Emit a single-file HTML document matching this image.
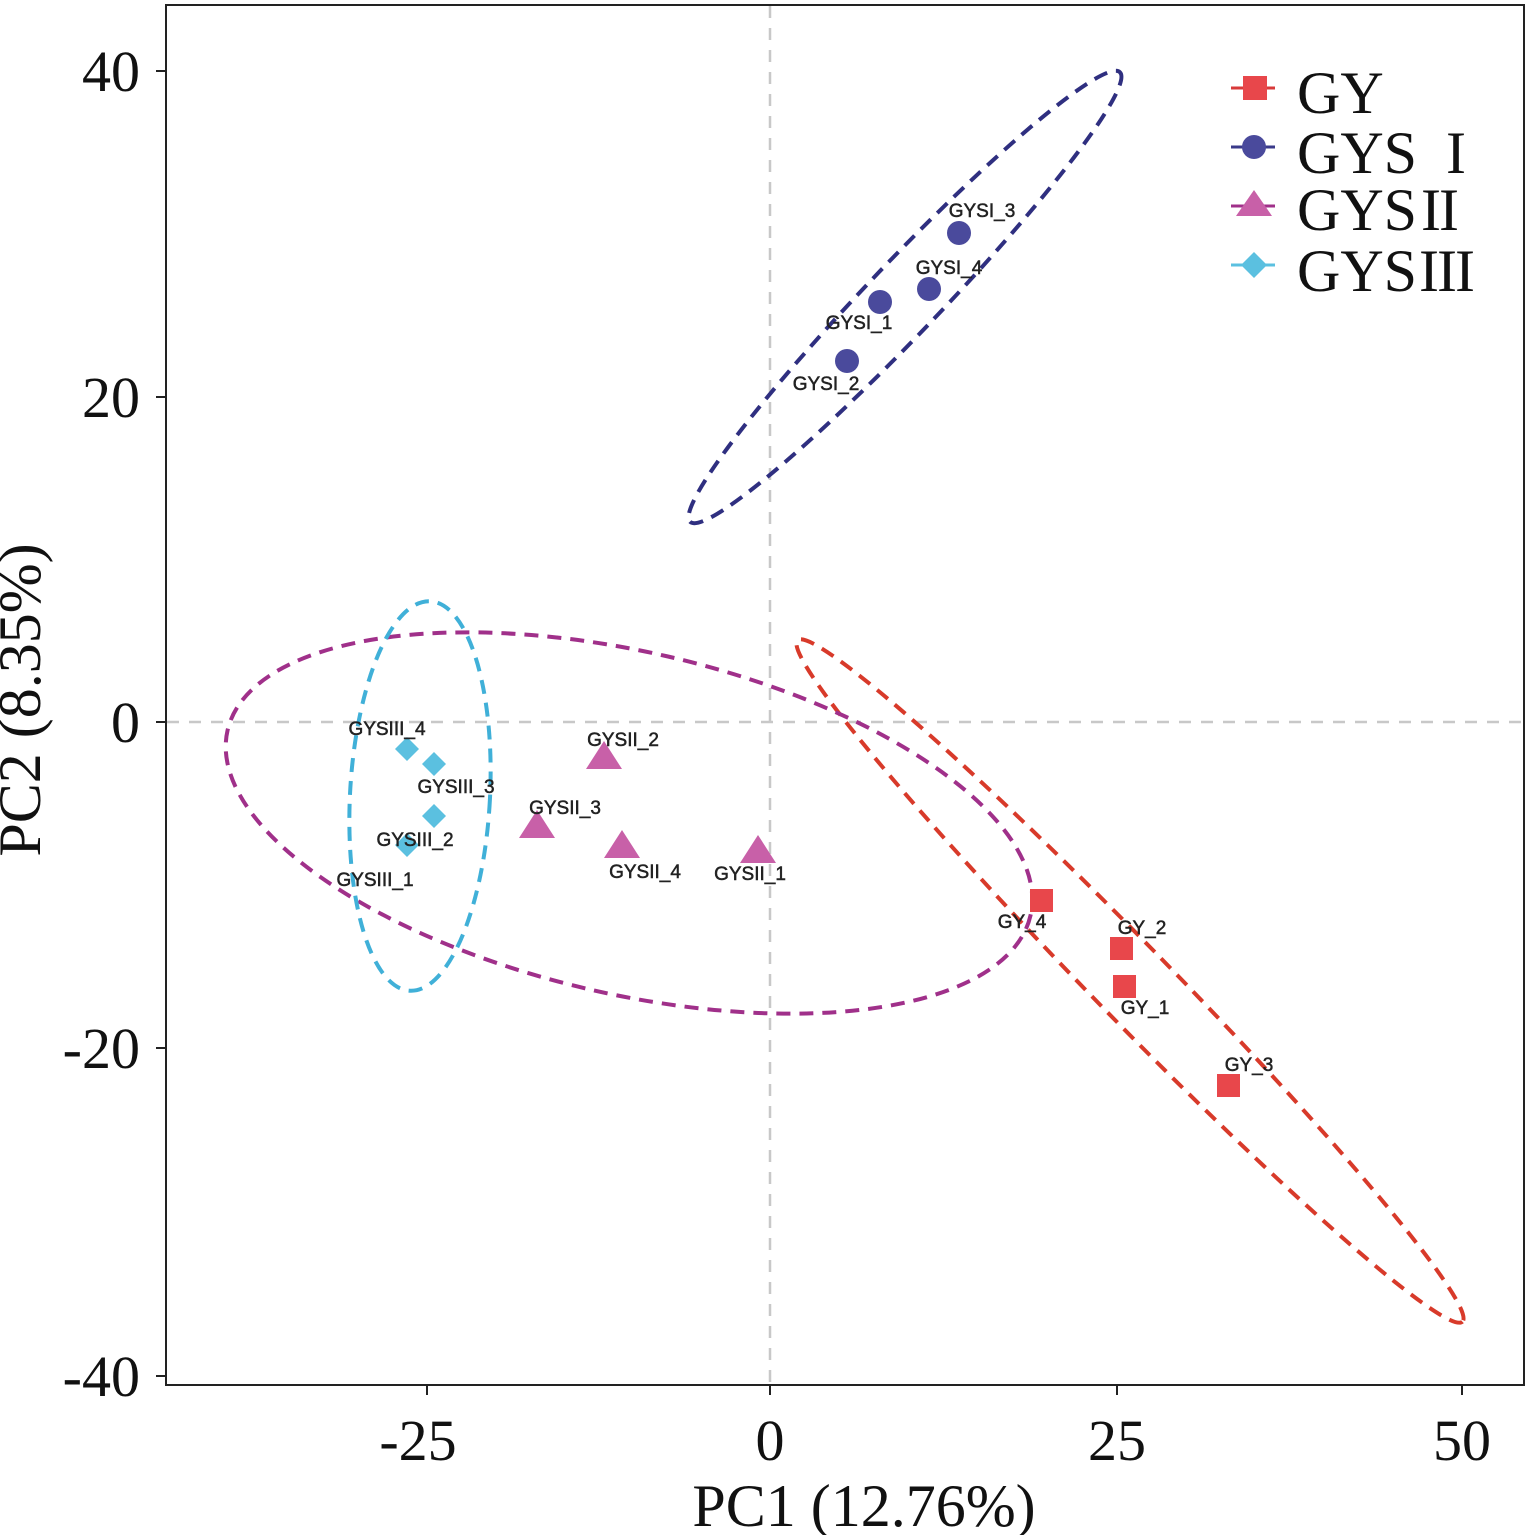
<!DOCTYPE html>
<html><head><meta charset="utf-8"><style>body{margin:0;background:#fff}</style></head><body>
<svg width="1532" height="1535" viewBox="0 0 1532 1535" xmlns="http://www.w3.org/2000/svg">
<rect x="0" y="0" width="1532" height="1535" fill="#fff"/>
<g stroke="#c8c8c8" stroke-width="2.5" stroke-dasharray="12,10">
<line x1="770" y1="6" x2="770" y2="1384"/>
<line x1="167" y1="722" x2="1523" y2="722"/>
</g>
<rect x="166" y="5" width="1358" height="1380" fill="none" stroke="#222" stroke-width="2"/>
<g stroke="#222" stroke-width="2">
<line x1="156" y1="71" x2="166" y2="71"/><line x1="156" y1="397" x2="166" y2="397"/>
<line x1="156" y1="722" x2="166" y2="722"/><line x1="156" y1="1048" x2="166" y2="1048"/>
<line x1="156" y1="1376" x2="166" y2="1376"/>
<line x1="427" y1="1385" x2="427" y2="1395"/><line x1="770" y1="1385" x2="770" y2="1395"/>
<line x1="1117" y1="1385" x2="1117" y2="1395"/><line x1="1462" y1="1385" x2="1462" y2="1395"/>
</g>
<g font-family="Liberation Serif, serif" font-size="58" fill="#111" text-anchor="end">
<text x="140" y="91">40</text><text x="140" y="417">20</text><text x="140" y="742">0</text>
<text x="140" y="1068">-20</text><text x="140" y="1396">-40</text>
</g>
<g font-family="Liberation Serif, serif" font-size="58" fill="#111" text-anchor="middle">
<text x="418" y="1460">-25</text><text x="770" y="1460">0</text><text x="1117" y="1460">25</text><text x="1462" y="1460">50</text>
<text x="864" y="1526" font-size="60">PC1 (12.76%)</text>
<text transform="translate(40,700) rotate(-90)" font-size="60">PC2 (8.35%)</text>
</g>
<g fill="none" stroke-width="4" stroke-dasharray="14,9">
<ellipse cx="905" cy="297" rx="311" ry="36" transform="rotate(-46.3 905 297)" stroke="#2f2f80"/>
<ellipse cx="1130" cy="981" rx="476" ry="38" transform="rotate(45.7 1130 981)" stroke="#d83a2a"/>
<ellipse cx="629" cy="823" rx="412" ry="171" transform="rotate(13 629 823)" stroke="#a0308a"/>
<ellipse cx="420" cy="796" rx="70" ry="195" transform="rotate(3 420 796)" stroke="#40b0d8"/>
</g>
<g fill="#4a4a9c">
<circle cx="959" cy="233" r="12"/><circle cx="929" cy="289" r="12"/><circle cx="880" cy="302" r="12"/><circle cx="847" cy="361" r="12"/>
</g>
<g fill="#c860a8">
<polygon points="604,741 622,769 586,769"/><polygon points="537,810 555,838 519,838"/>
<polygon points="622,830 640,858 604,858"/><polygon points="758,835 776,863 740,863"/>
</g>
<g fill="#5bc0e0">
<polygon points="407,737 419,749 407,761 395,749"/><polygon points="434,752 446,764 434,776 422,764"/>
<polygon points="434,804 446,816 434,828 422,816"/><polygon points="407,833 419,845 407,857 395,845"/>
</g>
<g fill="#e8474b">
<rect x="1030" y="889" width="23" height="23"/><rect x="1110" y="937" width="23" height="23"/>
<rect x="1113" y="975" width="23" height="23"/><rect x="1217" y="1074" width="23" height="23"/>
</g>
<g font-family="Liberation Sans, sans-serif" font-size="19" fill="#222" text-anchor="middle" stroke="#222" stroke-width="0.5">
<text x="982" y="217">GYSI_3</text><text x="949" y="274">GYSI_4</text><text x="859" y="329">GYSI_1</text><text x="826" y="390">GYSI_2</text>
<text x="623" y="746">GYSII_2</text><text x="565" y="814">GYSII_3</text><text x="645" y="878">GYSII_4</text><text x="750" y="880">GYSII_1</text>
<text x="387" y="735">GYSIII_4</text><text x="456" y="793">GYSIII_3</text><text x="415" y="846">GYSIII_2</text><text x="375" y="886">GYSIII_1</text>
<text x="1022" y="928">GY_4</text><text x="1142" y="934">GY_2</text><text x="1145" y="1014">GY_1</text><text x="1249" y="1071">GY_3</text>
</g>
<g stroke-width="3">
<line x1="1231" y1="88" x2="1275" y2="88" stroke="#d83a3a"/><rect x="1243" y="76" width="24" height="24" fill="#e8474b"/>
<line x1="1231" y1="147" x2="1275" y2="147" stroke="#3a3a8a"/><circle cx="1254" cy="147" r="12" fill="#4a4a9c"/>
<line x1="1231" y1="206" x2="1275" y2="206" stroke="#a0308a"/><polygon points="1254,190 1272,216 1236,216" fill="#c860a8"/>
<line x1="1231" y1="265" x2="1275" y2="265" stroke="#5bc0e0"/><polygon points="1254,252 1267,265 1254,278 1241,265" fill="#5bc0e0"/>
</g>
<g font-family="Liberation Serif, serif" font-size="60" fill="#111">
<text x="1297" y="113">GY</text>
<text x="1297" y="173">GYS <tspan dx="14">I</tspan></text>
<text x="1297" y="230">GYS<tspan dx="4">I</tspan><tspan dx="-2">I</tspan></text>
<text x="1297" y="291">GYS<tspan dx="2">I</tspan><tspan dx="-2">I</tspan><tspan dx="-2">I</tspan></text>
</g>
</svg>
</body></html>
